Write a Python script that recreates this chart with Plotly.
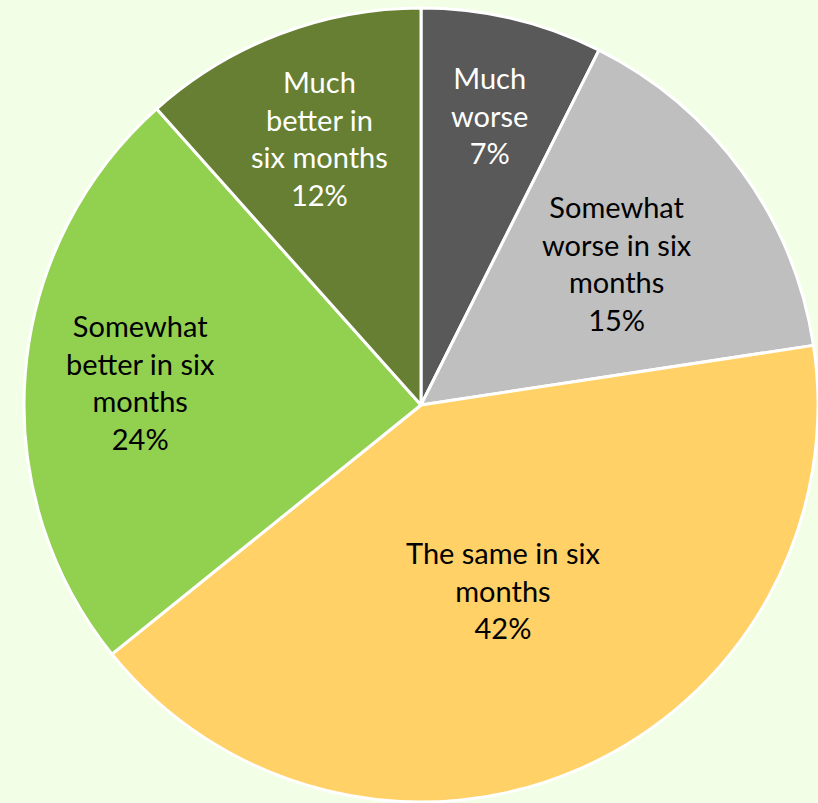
import math
import plotly.graph_objects as go

labels = ["Much worse", "Somewhat worse in six months", "The same in six months",
          "Somewhat better in six months", "Much better in six months"]
display_labels = ["Much<br>worse", "Somewhat<br>worse in six<br>months", "The same in six<br>months",
                  "Somewhat<br>better in six<br>months", "Much<br>better in<br>six months"]
values = [7.4, 15.2, 41.6, 24.2, 11.6]
colors = ["#595959", "#BFBFBF", "#FFD166", "#92D050", "#667F33"]
text_colors = ["white", "black", "black", "black", "white"]
label_radius = [0.75, 0.61, 0.51, 0.71, 0.72]

W, H = 818, 803
CX, CY, R = 421, 405, 397
BG = "#F3FEE6"

fig = go.Figure(go.Pie(
    labels=labels,
    values=values,
    sort=False,
    direction="clockwise",
    rotation=0,
    marker=dict(colors=colors, line=dict(color="white", width=3)),
    textinfo="none",
    showlegend=False,
    hoverinfo="label+percent",
    domain=dict(x=[(CX - R) / W, (CX + R) / W], y=[1 - (CY + R) / H, 1 - (CY - R) / H]),
))

total = sum(values)
cum = 0.0
for lab, v, tc, f in zip(display_labels, values, text_colors, label_radius):
    mid = (cum + v / 2) / total * 2 * math.pi
    cum += v
    px = CX + R * f * math.sin(mid)
    py = CY - R * f * math.cos(mid)
    pct = round(v / total * 100)
    fig.add_annotation(
        x=px / W, y=1 - py / H, xref="paper", yref="paper",
        text=f"{lab}<br>{pct}%", showarrow=False,
        xanchor="center", yanchor="middle", align="center",
        font=dict(family="Lato", size=29, color=tc),
    )

fig.update_layout(
    width=W, height=H,
    margin=dict(l=0, r=0, t=0, b=0),
    paper_bgcolor=BG,
    plot_bgcolor=BG,
)

fig.write_html(
    "out.html",
    config={"displayModeBar": False},
    post_script=f"document.body.style.margin='0';document.body.style.background='{BG}';",
)
